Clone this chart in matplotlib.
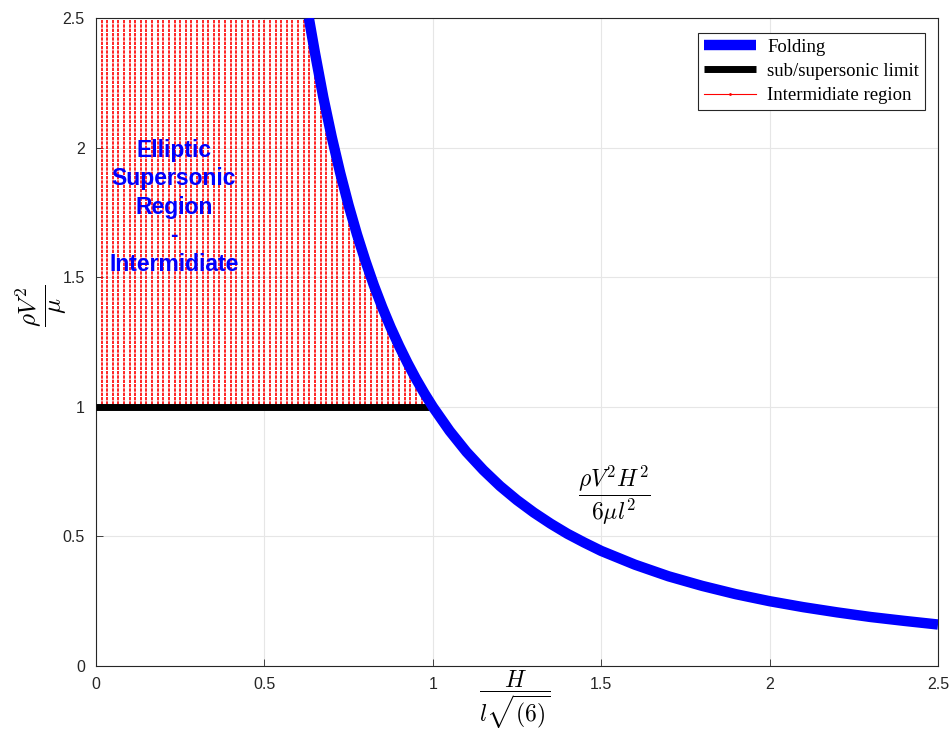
import numpy as np
import matplotlib
matplotlib.use("Agg")
import matplotlib.pyplot as plt
from matplotlib.patches import Polygon

plt.rcParams["mathtext.fontset"] = "cm"

# Folding curve, values
fold_x = [0.632, 0.65, 0.675, 0.70, 0.725, 0.75, 0.775, 0.80, 0.825, 0.85, 0.875, 0.90,
          0.925, 0.95, 0.975, 1.00, 1.05, 1.10, 1.15, 1.20, 1.25, 1.30, 1.35, 1.40,
          1.45, 1.50, 1.60, 1.70, 1.80, 1.90, 2.00, 2.10, 2.20, 2.30, 2.40, 2.50]
fold_y = [2.500, 2.367, 2.194, 2.041, 1.903, 1.778, 1.665, 1.563, 1.469, 1.384, 1.306, 1.235,
          1.169, 1.108, 1.052, 1.000, 0.907, 0.826, 0.756, 0.694, 0.640, 0.592, 0.549, 0.510,
          0.476, 0.444, 0.391, 0.346, 0.309, 0.277, 0.250, 0.227, 0.207, 0.189, 0.174, 0.160]

# sub/supersonic limit
limit_x = [0.0, 1.0]
limit_y = [1.0, 1.0]

# intermediate region hatch: vertical lines between x=0 and x=1
n_hatch = 61
hatch_lo, hatch_hi = 0.99, 2.5

xticks = [0, 0.5, 1, 1.5, 2, 2.5]
yticks = [0, 0.5, 1, 1.5, 2, 2.5]

fig = plt.figure(figsize=(9.52, 7.39), dpi=100)
ax = fig.add_axes([0.1008, 0.0988, 0.8845, 0.8768])

# red hatch lines clipped to the region left of the folding curve
hx = np.linspace(0, 1, n_hatch)
vl = ax.vlines(hx, hatch_lo, hatch_hi, colors="red", linestyles=(0, (2.0, 0.6)),
               linewidth=1.2, zorder=2)
clip_pts = [(0, hatch_lo), (0, hatch_hi)] + [(x, y) for x, y in zip(fold_x, fold_y) if y >= 1.0] + [(1.0, hatch_lo)]
clip = Polygon(clip_pts, closed=True, transform=ax.transData, facecolor="none", edgecolor="none")
ax.add_patch(clip)
vl.set_clip_path(clip)

ax.plot(fold_x, fold_y, color="blue", lw=7.5, solid_capstyle="butt", solid_joinstyle="round",
        zorder=4, label="Folding")
ax.plot(limit_x, limit_y, color="black", lw=5, solid_capstyle="butt", zorder=3,
        label="sub/supersonic limit")
ax.plot([], [], color="red", lw=0.8, marker=".", ms=2, label="Intermidiate region")

ax.set_xlim(0, 2.5)
ax.set_ylim(0, 2.5)
ax.set_xticks(xticks)
ax.set_yticks(yticks)
ax.set_xticklabels([f"{t:g}" for t in xticks], family="Liberation Sans", fontsize=11.5, color="#262626")
ax.set_yticklabels([f"{t:g}" for t in yticks], family="Liberation Sans", fontsize=11.5, color="#262626")
ax.tick_params(direction="in", length=5, width=0.6, color="#262626", top=False, right=False, pad=8)
ax.grid(True, color="#e6e6e6", lw=0.8)
ax.set_axisbelow(True)
for s in ax.spines.values():
    s.set_color("#262626")
    s.set_linewidth(0.8)

fig.text(0.541, 0.053, r"$\dfrac{H}{l\sqrt{(6)}}$", fontsize=17, ha="center", va="center")
fig.text(0.043, 0.587, r"$\dfrac{\rho V^2}{\mu}$", fontsize=18, ha="center", va="center",
         rotation=90)

ax.text(0.232, 1.77, "Elliptic\nSupersonic\nRegion\n-\nIntermidiate", color="blue",
        fontsize=16.5, fontweight="bold", family="Liberation Sans", ha="center", va="center",
        linespacing=1.3, zorder=5)
ax.text(1.54, 0.66, r"$\dfrac{\rho V^2 H^2}{6 \mu l^2}$", fontsize=17, ha="center", va="center")

leg = ax.legend(loc="upper right", bbox_to_anchor=(0.9845, 0.977),
                prop={"family": "Liberation Serif", "size": 13.5},
                frameon=True, fancybox=False, edgecolor="#262626", framealpha=1,
                handlelength=2.8, borderpad=0.3, labelspacing=0.38, handletextpad=0.6,
                borderaxespad=0)
leg.get_frame().set_linewidth(0.8)

fig.savefig("out.png", dpi=100)
